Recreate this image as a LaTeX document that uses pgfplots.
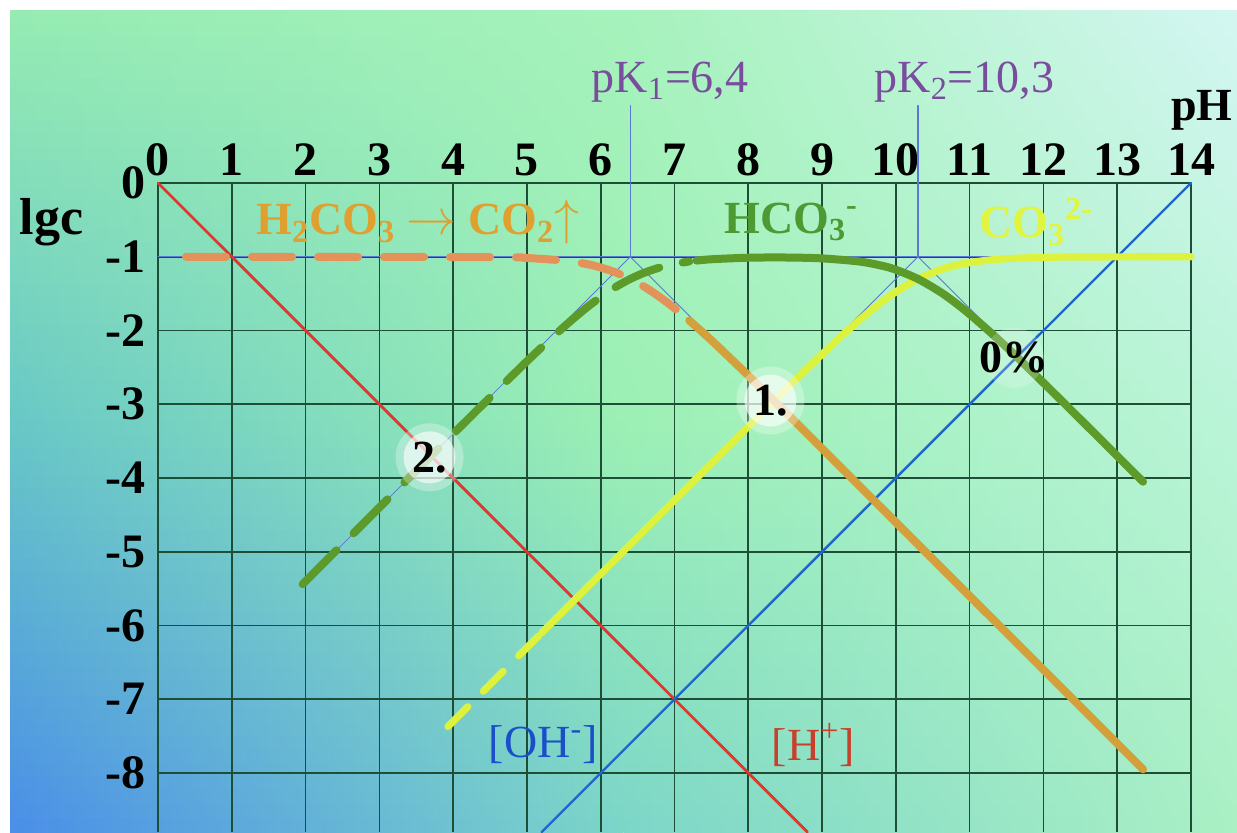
\documentclass[border=0pt]{standalone}
\usepackage{fontspec}
\setmainfont{Liberation Serif}
\usepackage{pgfplots}
\pgfplotsset{compat=1.18}

% background control colours (left / middle / right column, top / middle / bottom row)
\definecolor{Lt}{HTML}{96ECB2}
\definecolor{Lm}{HTML}{68C8C6}
\definecolor{Lb}{HTML}{4A8EE8}
\definecolor{Mt}{HTML}{A6F2BC}
\definecolor{Mm}{HTML}{9CF0B4}
\definecolor{Mb}{HTML}{7CD6C8}
\definecolor{Rt}{HTML}{D4F6F2}
\definecolor{Rm}{HTML}{BAF4D8}
\definecolor{Rb}{HTML}{AAF0C4}

% drawing colours
\definecolor{gridc}{HTML}{1E4E36}
\definecolor{hcol}{HTML}{D93A2E}
\definecolor{ohcol}{HTML}{1F66CC}
\definecolor{acidd}{HTML}{E3935A}
\definecolor{acids}{HTML}{D3A03C}
\definecolor{acidl}{HTML}{E0A030}
\definecolor{bicarb}{HTML}{5C9A2A}
\definecolor{bicarbl}{HTML}{4E9A32}
\definecolor{carb}{HTML}{DDF23C}
\definecolor{carbl}{HTML}{E2F53E}
\definecolor{pkcol}{HTML}{7A4C9E}
\definecolor{asym}{HTML}{5A78D4}
\definecolor{ohl}{HTML}{1A4FC8}
\definecolor{hl}{HTML}{C8402A}

\newcommand{\lblsize}{\fontsize{23}{26}\selectfont}

\begin{document}
\begin{tikzpicture}
\useasboundingbox (0,0) rectangle (618.5pt,-416pt);
\fill[white] (0,0) rectangle (618.5pt,-416pt);

% gradient background built from horizontal strips
\foreach \i in {0,...,59}{
  \pgfmathsetmacro{\t}{(\i+0.5)/60}
  \pgfmathtruncatemacro{\p}{\t<0.5 ? 100*(1-2*\t) : 100*(2-2*\t)}
  \ifdim\t pt<0.5pt
    \colorlet{cl}{Lt!\p!Lm}\colorlet{cm}{Mt!\p!Mm}\colorlet{cr}{Rt!\p!Rm}
  \else
    \colorlet{cl}{Lm!\p!Lb}\colorlet{cm}{Mm!\p!Mb}\colorlet{cr}{Rm!\p!Rb}
  \fi
  \pgfmathsetmacro{\ya}{-5-\i*6.85}
  \pgfmathsetmacro{\yb}{\ya-6.85-0.5}
  \shade[left color=cl, right color=cm] (5pt,\ya pt) rectangle (311.75pt,\yb pt);
  \shade[left color=cm, right color=cr] (311.75pt,\ya pt) rectangle (618.5pt,\yb pt);
}

\begin{axis}[
  at={(79pt,-91.5pt)}, anchor=north west,
  scale only axis, width=516.5pt, height=324.5pt,
  xmin=0, xmax=14, ymin=-8.8, ymax=0,
  axis x line*=top, axis y line*=left,
  axis line style={draw=none},
  major tick length=0pt,
  xtick={0,1,...,14}, ytick={0,-1,...,-8},
  yticklabels={0,-1,-2,-3,-4,-5,-6,-7,-8},
  /pgf/number format/assume math mode=true,
  xticklabel style={font=\bfseries\fontsize{24}{24}\selectfont, inner sep=1pt, yshift=2.5pt},
  yticklabel style={font=\bfseries\fontsize{24}{24}\selectfont, inner sep=1pt, xshift=-5pt},
  grid=major,
  major grid style={draw=gridc, line width=0.8pt},
  clip=false,
  every axis plot/.append style={line cap=round, line join=round},
]

% pK markers and asymptotes
\addplot[asym, line width=0.5pt] coordinates {(0,-1) (14,-1)};
\addplot[asym, line width=0.6pt] coordinates {(6.4,-1) (6.4,1.05)};
\addplot[asym, line width=0.6pt] coordinates {(10.3,-1) (10.3,1.05)};
\addplot[asym, line width=0.4pt] coordinates {(2,-5.4) (6.4,-1) (7.4,-2)};
\addplot[asym, line width=0.4pt] coordinates {(9.3,-2) (10.3,-1) (11.3,-2)};

% [H+] and [OH-]
\addplot[hcol, line width=1.4pt] coordinates {(0,0) (8.8,-8.8)};
\addplot[ohcol, line width=1.2pt] coordinates {(5.2,-8.8) (14,0)};

% CO3 2-
\addplot[carb, line width=3.6pt, dash pattern=on 14pt off 11pt] coordinates {(3.93,-7.370) (5.2,-6.100)};
\addplot[carb, line width=3.6pt, smooth] coordinates {
  (5.2,-6.100) (7,-4.300) (8,-3.302) (8.5,-2.807) (9,-2.321) (9.3,-2.041)
  (9.6,-1.779) (9.8,-1.619) (10.0,-1.476) (10.3,-1.301) (10.6,-1.176)
  (10.8,-1.119) (11.0,-1.079) (11.3,-1.041) (11.6,-1.021) (12,-1.009)
  (12.5,-1.003) (14,-1.000)};

% H2CO3
\addplot[acidd, line width=4pt, dash pattern=on 20pt off 13pt, smooth] coordinates {
  (0.38,-1.000) (4.5,-1.005) (5.0,-1.017) (5.5,-1.052) (5.8,-1.097) (6.0,-1.146)
  (6.2,-1.212) (6.4,-1.301) (6.6,-1.412) (6.8,-1.546) (7.0,-1.697) (7.2,-1.864)};
\addplot[acids, line width=4pt, smooth] coordinates {
  (7.2,-1.864) (7.5,-2.133) (8.0,-2.611) (8.5,-3.103) (9.0,-3.601) (10.0,-4.600)
  (13.35,-7.950)};

% HCO3-
\addplot[bicarb, line width=4pt, dash pattern=on 24pt off 12pt, smooth] coordinates {
  (1.96,-5.440) (3,-4.400) (4,-3.402) (5,-2.417) (5.5,-1.952) (5.8,-1.697)
  (6.0,-1.546) (6.2,-1.412) (6.4,-1.301) (6.6,-1.213) (6.8,-1.146) (7.0,-1.097)
  (7.2,-1.064)};
\addplot[bicarb, line width=4pt, smooth] coordinates {
  (7.3,-1.052) (7.5,-1.034) (8.0,-1.013) (8.5,-1.010) (9.0,-1.022) (9.5,-1.064)
  (9.8,-1.119) (10.0,-1.176) (10.3,-1.301) (10.6,-1.476) (10.8,-1.619)
  (11.0,-1.779) (11.3,-2.041) (11.6,-2.321) (12.0,-2.709) (12.5,-3.203)
  (13.35,-4.050)};

% marked points
\node[circle, fill=white, fill opacity=0.3, minimum size=34pt] at (axis cs:8.3,-2.95) {};
\node[circle, fill=white, fill opacity=0.6, minimum size=26pt] at (axis cs:8.3,-2.95) {};
\node[font=\bfseries\lblsize] at (axis cs:8.3,-2.95) {1.};
\node[circle, fill=white, fill opacity=0.3, minimum size=34pt] at (axis cs:3.68,-3.72) {};
\node[circle, fill=white, fill opacity=0.6, minimum size=26pt] at (axis cs:3.68,-3.72) {};
\node[font=\bfseries\lblsize] at (axis cs:3.68,-3.72) {2.};
\node[circle, fill=white, fill opacity=0.2, minimum size=30pt] at (axis cs:11.6,-2.37) {};
\node[font=\bfseries\lblsize] at (axis cs:11.6,-2.37) {0\%};

% labels
\node[font=\bfseries\lblsize, acidl] at (axis cs:3.52,-0.53) {H\textsubscript{2}CO\textsubscript{3} $\rightarrow$ CO\textsubscript{2}$\uparrow$};
\node[font=\bfseries\lblsize, bicarbl] at (axis cs:8.58,-0.53) {HCO\textsubscript{3}\textsuperscript{-}};
\node[font=\bfseries\lblsize, carbl] at (axis cs:11.9,-0.53) {CO\textsubscript{3}\textsuperscript{2-}};
\node[font=\lblsize, pkcol] at (axis cs:6.94,1.37) {pK\textsubscript{1}=6,4};
\node[font=\lblsize, pkcol] at (axis cs:10.93,1.37) {pK\textsubscript{2}=10,3};
\node[font=\bfseries\lblsize, anchor=base, inner sep=0pt] at (axis cs:14.15,0.85) {pH};
\node[font=\bfseries\fontsize{26}{28}\selectfont] at (axis cs:-1.44,-0.53) {lgc};
\node[font=\lblsize, ohl] at (axis cs:5.22,-7.62) {[OH\textsuperscript{-}]};
\node[font=\lblsize, hl] at (axis cs:8.88,-7.62) {[H\textsuperscript{+}]};
\end{axis}
\end{tikzpicture}
\end{document}
